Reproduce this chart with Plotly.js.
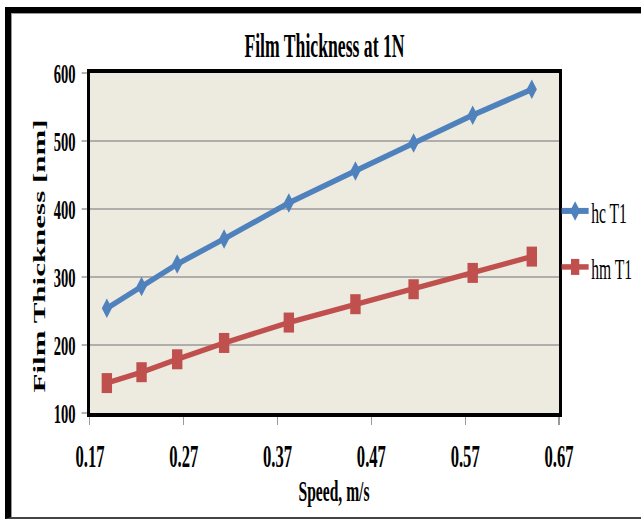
<!DOCTYPE html>
<html>
<head>
<meta charset="utf-8">
<script src="https://cdn.plot.ly/plotly-3.0.1.min.js"></script>
<style>
  html, body { margin: 0; padding: 0; background: #fff; overflow: hidden; }
  #wrap { position: relative; width: 641px; height: 520px; overflow: hidden; }
  #chart { position: absolute; left: 0; top: 0; width: 1233px; height: 520px;
           transform: scaleX(0.52); transform-origin: 0 0; }
  #frame { position: absolute; left: 5px; top: 7px; width: 700px; height: 512px;
           box-sizing: border-box; border-left: 6px solid #000; border-top: 6px solid #000;
           border-bottom: 2px solid #444; box-shadow: inset 1px 1px 0 0 #999; pointer-events: none; }
</style>
</head>
<body>
<div id="wrap">
  <div id="chart"></div>
  <div id="frame"></div>
</div>
<script>
// Data
const speed = [0.188, 0.225, 0.263, 0.313, 0.382, 0.453, 0.515, 0.578, 0.641];
const hcT1  = [254, 286, 319, 356, 409, 456, 497, 538, 576];
const hmT1  = [144, 160, 179, 203, 233, 260, 282, 306, 330];
const seriesNames = ['hc T1', 'hm T1'];
const xTicks = [0.17, 0.27, 0.37, 0.47, 0.57, 0.67];
const yTicks = [100, 200, 300, 400, 500, 600];

const FONT = 'Liberation Serif, Times New Roman, serif';

const traces = [
  {
    x: speed, y: hcT1, name: seriesNames[0], type: 'scatter', mode: 'lines+markers',
    legendgroup: 'a',
    line: { color: '#4F81BD', width: 6 },
    marker: { symbol: 'diamond', size: 15, color: '#4F81BD' }
  },
  {
    x: speed, y: hmT1, name: seriesNames[1], type: 'scatter', mode: 'lines+markers',
    legendgroup: 'b',
    line: { color: '#C0504D', width: 5.5 },
    marker: { symbol: 'square', size: 20, color: '#C0504D' }
  }
];

const layout = {
  width: 1233, height: 520,
  margin: { l: 173, r: 156, t: 73, b: 107 },
  paper_bgcolor: '#ffffff',
  plot_bgcolor: '#EDEAE0',
  showlegend: true,
  title: {
    text: 'Film Thickness at 1N',
    x: 0.5, xref: 'paper', y: 1 - 45 / 520, yref: 'container', yanchor: 'middle',
    font: { family: FONT, size: 34, weight: 'bold', color: '#000' }
  },
  xaxis: {
    range: [0.17, 0.67],
    tickvals: xTicks,
    ticktext: xTicks.map(v => v.toFixed(2)),
    ticks: 'outside', ticklen: 8, tickwidth: 2, tickcolor: '#999',
    ticklabelstandoff: 4,
    showgrid: false, zeroline: false,
    showline: true, linecolor: '#000', linewidth: 4, mirror: true,
    tickfont: { family: FONT, size: 32, weight: 'bold', color: '#000' }
  },
  yaxis: {
    range: [100, 600],
    tickvals: yTicks,
    ticks: 'outside', ticklen: 10, tickwidth: 1.5, tickcolor: '#999',
    ticklabelstandoff: 6,
    showgrid: true, gridcolor: '#9a9a9a', gridwidth: 1.5,
    zeroline: false,
    showline: true, linecolor: '#000', linewidth: 6, mirror: true,
    tickfont: { family: FONT, size: 28, weight: 'bold', color: '#000' }
  },
  annotations: [
    {
      text: 'Film Thickness [nm]', textangle: -90,
      xref: 'paper', x: -0.108, xanchor: 'center',
      yref: 'paper', y: (413 - 256) / 340, yanchor: 'middle',
      showarrow: false,
      font: { family: FONT, size: 31, weight: 'bold', color: '#000' }
    },
    {
      text: 'Speed, m/s',
      xref: 'paper', x: 0.52, xanchor: 'center',
      yref: 'paper', y: (413 - 490) / 340, yanchor: 'middle',
      showarrow: false,
      font: { family: FONT, size: 30, weight: 'bold', color: '#000' }
    }
  ],
  legend: {
    x: 1.0, xanchor: 'left', y: 0.512, yanchor: 'middle',
    bgcolor: 'rgba(0,0,0,0)', borderwidth: 0,
    traceorder: 'grouped', tracegroupgap: 14,
    itemwidth: 52,
    font: { family: FONT, size: 30, color: '#000' }
  }
};

Plotly.newPlot('chart', traces, layout, { displayModeBar: false, staticPlot: true });
</script>
</body>
</html>
